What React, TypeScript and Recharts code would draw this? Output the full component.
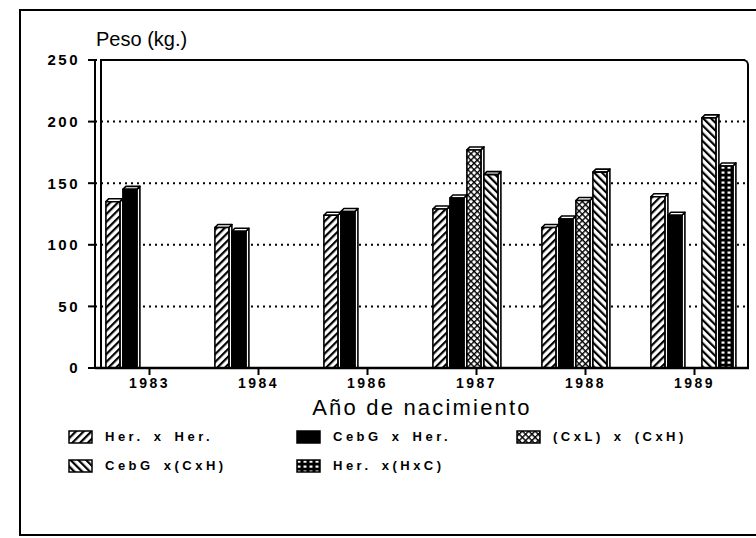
import { BarChart, Bar, XAxis, YAxis, CartesianGrid } from 'recharts'

// birth years and weights (kg) per cross
const years = ['1983', '1984', '1986', '1987', '1988', '1989']
const herXher = [135, 114, 124, 129, 114, 139]
const cebgXher = [145, 111, 127, 138, 121, 124]
const cxlXcxh = [null, null, null, 177, 136, null]
const cebgXcxh = [null, null, null, 157, 159, 203]
const herXhxc = [null, null, null, null, null, 164]

const seriesNames = ['Her. x Her.', 'CebG x Her.', '(CxL) x (CxH)', 'CebG x(CxH)', 'Her. x(HxC)']
const seriesKeys = ['herHer', 'cebgHer', 'cxlCxh', 'cebgCxh', 'herHxc']
const yTicks = [0, 50, 100, 150, 200, 250]

const data = years.map((year, i) => ({
  year,
  herHer: herXher[i],
  cebgHer: cebgXher[i],
  cxlCxh: cxlXcxh[i],
  cebgCxh: cebgXcxh[i],
  herHxc: herXhxc[i],
}))

const font = '"Liberation Sans", Arial, sans-serif'

const Patterns = ({ p }: { p: string }) => (
  <defs>
    <pattern id={`${p}-fwd`} width="5.5" height="5.5" patternUnits="userSpaceOnUse" patternTransform="rotate(45)">
      <rect width="5.5" height="5.5" fill="#fff" />
      <rect width="2.2" height="5.5" fill="#000" />
    </pattern>
    <pattern id={`${p}-back`} width="5.5" height="5.5" patternUnits="userSpaceOnUse" patternTransform="rotate(-45)">
      <rect width="5.5" height="5.5" fill="#fff" />
      <rect width="2.2" height="5.5" fill="#000" />
    </pattern>
    <pattern id={`${p}-cross`} width="4.5" height="4.5" patternUnits="userSpaceOnUse" patternTransform="rotate(45)">
      <rect width="4.5" height="4.5" fill="#fff" />
      <rect width="1.4" height="4.5" fill="#000" />
      <rect width="4.5" height="1.4" fill="#000" />
    </pattern>
    <pattern id={`${p}-grid`} width="6" height="5" patternUnits="userSpaceOnUse">
      <rect width="6" height="5" fill="#000" />
      <rect x="1.5" y="1.5" width="3" height="2.2" fill="#fff" />
    </pattern>
  </defs>
)

const fills = (p: string) => [`url(#${p}-fwd)`, '#000', `url(#${p}-cross)`, `url(#${p}-back)`, `url(#${p}-grid)`]

const Bar3D = (props: any) => {
  const { x, y, width, height, fill } = props
  if (height == null || height <= 0) return null
  const d = 3
  const w = width - d
  return (
    <g stroke="#000" strokeWidth={1.6} strokeLinejoin="round">
      <polygon points={`${x + w},${y} ${x + w + d},${y - d} ${x + w + d},${y + height} ${x + w},${y + height}`} fill="#fff" />
      <polygon points={`${x},${y} ${x + d},${y - d} ${x + w + d},${y - d} ${x + w},${y}`} fill="#fff" />
      <rect x={x} y={y} width={w} height={height} fill={fill} />
    </g>
  )
}

const legendPos = [
  { left: 68, top: 429 },
  { left: 296, top: 429 },
  { left: 516, top: 429 },
  { left: 68, top: 458 },
  { left: 296, top: 458 },
]

export default function App() {
  const f = fills('c')
  return (
    <div style={{ position: 'absolute', left: 0, top: 0, width: 756, height: 538, overflow: 'hidden', background: '#fff', fontFamily: font }}>
      <div style={{ position: 'absolute', left: 19, top: 9, width: 760, height: 527, border: '2.5px solid #000', boxSizing: 'border-box' }} />
      <div style={{ position: 'absolute', left: 100, top: 59, width: 649, height: 310, borderTop: '2px solid #000', borderRight: '2px solid #000', borderLeft: '2px solid #000', borderTopRightRadius: 6, boxSizing: 'border-box' }} />
      <div style={{ position: 'absolute', left: 96, top: 29, fontSize: 20, lineHeight: '20px', color: '#000' }}>Peso (kg.)</div>
      <BarChart
        width={756}
        height={538}
        data={data}
        margin={{ top: 60, right: 7, bottom: 110, left: 35 }}
        barCategoryGap="10%"
        barGap={0}
        style={{ position: 'absolute', left: 0, top: 0 }}
      >
        <Patterns p="c" />
        <CartesianGrid vertical={false} stroke="#000" strokeWidth={2} strokeDasharray="2 4" />
        <XAxis
          dataKey="year"
          height={60}
          axisLine={{ stroke: '#000', strokeWidth: 2.5 }}
          tickLine={{ stroke: '#000', strokeWidth: 2 }}
          tickSize={7}
          tickMargin={3}
          tick={{ fill: '#000', fontSize: 14, fontWeight: 'bold', fontFamily: font, letterSpacing: 2.5 }}
          label={{ value: 'Año de nacimiento', position: 'insideBottom', offset: 13, fill: '#000', fontSize: 22, fontFamily: font, letterSpacing: 2.2 }}
        />
        <YAxis
          domain={[0, 250]}
          ticks={yTicks}
          width={60}
          axisLine={{ stroke: '#000', strokeWidth: 2 }}
          tickLine={{ stroke: '#000', strokeWidth: 2 }}
          tickSize={7}
          tickMargin={8}
          tick={{ fill: '#000', fontSize: 15, fontWeight: 'bold', fontFamily: font, letterSpacing: 2.5 }}
        />
        {seriesKeys.map((k, i) => (
          <Bar key={k} dataKey={k} name={seriesNames[i]} fill={f[i]} shape={<Bar3D />} isAnimationActive={false} />
        ))}
      </BarChart>
      {seriesNames.map((name, i) => (
        <div key={name} style={{ position: 'absolute', left: legendPos[i].left, top: legendPos[i].top, display: 'flex', alignItems: 'center', gap: 12 }}>
          <svg width={25} height={14}>
            <Patterns p={`l${i}`} />
            <rect x={1} y={1} width={23} height={12} fill={fills(`l${i}`)[i]} stroke="#000" strokeWidth={1.5} />
          </svg>
          <span style={{ fontSize: 13, fontWeight: 'bold', letterSpacing: 3.5, wordSpacing: 3, color: '#000' }}>{name}</span>
        </div>
      ))}
    </div>
  )
}
